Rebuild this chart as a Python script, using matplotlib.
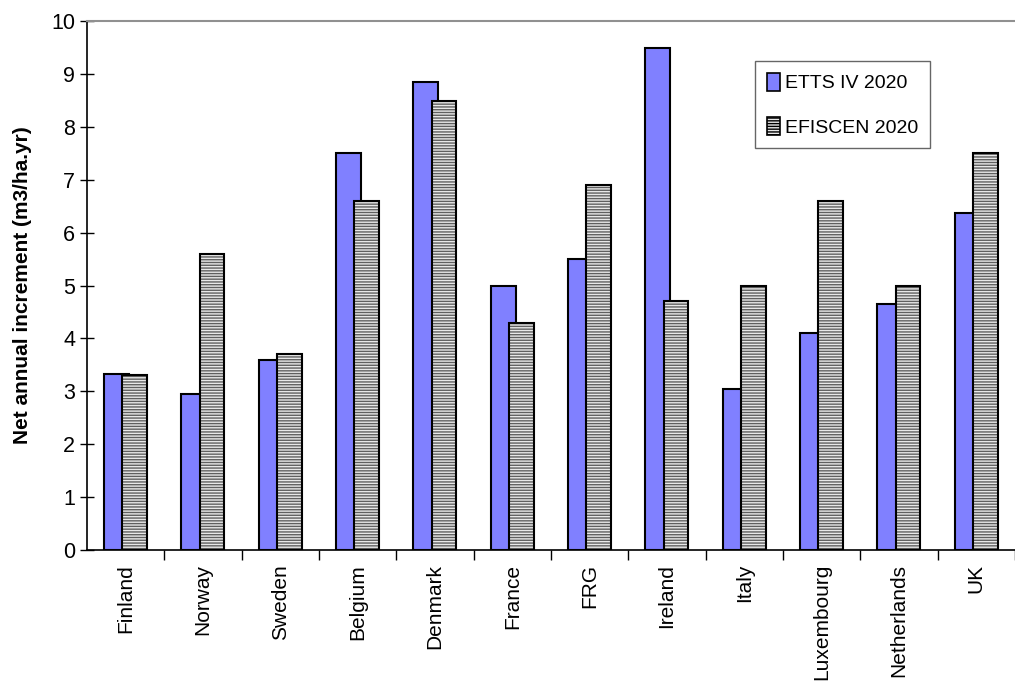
import matplotlib.pyplot as plt
import numpy as np
from matplotlib.patches import Patch

plt.rcParams['font.family'] = ['Liberation Sans', 'DejaVu Sans']

countries = ['Finland', 'Norway', 'Sweden', 'Belgium', 'Denmark', 'France',
             'FRG', 'Ireland', 'Italy', 'Luxembourg', 'Netherlands', 'UK']
etts = [3.33, 2.95, 3.6, 7.5, 8.85, 5.0, 5.5, 9.5, 3.05, 4.1, 4.65, 6.37]
efiscen = [3.3, 5.6, 3.7, 6.6, 8.5, 4.3, 6.9, 4.7, 5.0, 6.6, 5.0, 7.5]

fig = plt.figure(figsize=(10.15, 6.84), dpi=100)
ax = fig.add_axes([0.0857, 0.196, 0.9143, 0.773])

x = np.arange(len(countries))
w = 0.32
off = 0.118

ax.bar(x - off, etts, w, color='#8080ff', edgecolor='black', linewidth=1.5,
       zorder=2)
# hatched fill first, then a black outline on top
ax.bar(x + off, efiscen, w, color='#e8e8e8', edgecolor='#606060', hatch='------',
       linewidth=0, zorder=3)
ax.bar(x + off, efiscen, w, fill=False, edgecolor='black', linewidth=1.5, zorder=4)

h1 = Patch(facecolor='#8080ff', edgecolor='black', linewidth=1.2)
h2 = Patch(facecolor='#e8e8e8', edgecolor='black', hatch='------', linewidth=1.2)
leg = ax.legend([h1, h2], ['ETTS IV 2020', 'EFISCEN 2020'], loc='upper left',
                bbox_to_anchor=(0.72, 0.925), fontsize=14, frameon=True,
                fancybox=False, edgecolor='#404040', labelspacing=1.25,
                handlelength=0.7, handleheight=1.1, handletextpad=0.25,
                borderpad=0.6, borderaxespad=0)
leg.get_frame().set_linewidth(1.0)

ax.set_xlim(-0.5, len(countries) - 0.5)
ax.set_ylim(0, 10)
ax.set_yticks(range(0, 11))
ax.tick_params(axis='y', direction='inout', length=10, width=1, labelsize=15.5)
ax.set_xticks(x + 0.5, minor=False)
ax.set_xticklabels([])
ax.set_xticks(x, minor=True)
ax.set_xticklabels(countries, minor=True, rotation=90, fontsize=15)
ax.tick_params(axis='x', which='major', direction='out', length=7, width=1)
ax.tick_params(axis='x', which='minor', length=0, pad=10)

ax.spines['right'].set_visible(False)
ax.spines['top'].set_color('#909090')
ax.spines['top'].set_linewidth(1.5)
ax.spines['left'].set_linewidth(1.2)
ax.spines['bottom'].set_linewidth(1.2)

ax.set_ylabel('Net annual increment (m3/ha.yr)', fontsize=15, fontweight='bold',
              labelpad=14)

fig.savefig('out.png', dpi=100)
